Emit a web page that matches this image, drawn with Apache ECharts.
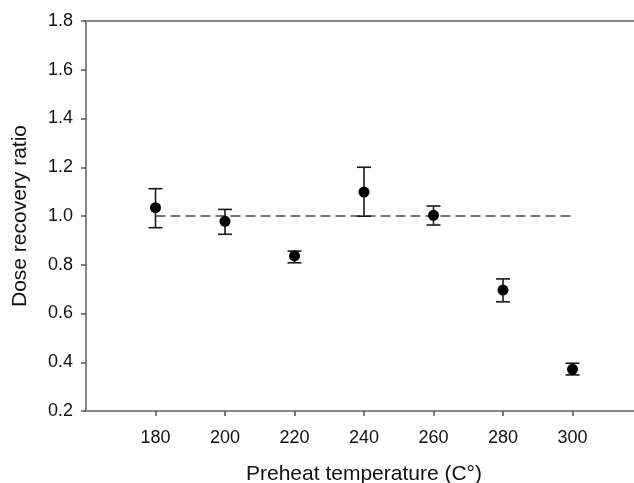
<!DOCTYPE html>
<html>
<head>
<meta charset="utf-8">
<script src="https://cdn.jsdelivr.net/npm/echarts@6/dist/echarts.min.js"></script>
<style>html,body{margin:0;padding:0;background:#fff;overflow:hidden;}#c{width:634px;height:483px;}</style>
</head>
<body>
<div id="c"></div>
<script>
const temps = [180, 200, 220, 240, 260, 280, 300];
const ratio = [1.034, 0.978, 0.836, 1.098, 1.003, 0.696, 0.371];
const errLow = [0.952, 0.925, 0.808, 0.999, 0.963, 0.648, 0.348];
const errHigh = [1.112, 1.027, 0.856, 1.200, 1.041, 0.742, 0.396];
const refLineX = [180, 300];
const refLineY = 1.0;

const chart = echarts.init(document.getElementById('c'), null, {renderer: 'canvas'});
const font = 'Liberation Sans, Arial, sans-serif';
chart.setOption({
  animation: false,
  backgroundColor: '#fff',
  grid: {left: 86, top: 21, width: 556, height: 390, outerBoundsMode: 'none', containLabel: false,
         show: true, borderColor: '#888', borderWidth: 2, backgroundColor: 'transparent'},
  xAxis: {
    type: 'value', min: 160, max: 320, interval: 20,
    name: 'Preheat temperature (C°)', nameLocation: 'middle', nameGap: 53,
    nameTextStyle: {fontFamily: font, fontSize: 21, color: '#111'},
    axisLine: {lineStyle: {color: '#888', width: 2}},
    axisTick: {inside: false, length: 5, lineStyle: {color: '#555', width: 1.5}},
    axisLabel: {showMinLabel: false, showMaxLabel: false, fontFamily: font, fontSize: 18, color: '#111', margin: 18},
    splitLine: {show: false}
  },
  yAxis: {
    type: 'value', min: 0.2, max: 1.8, interval: 0.2,
    name: 'Dose recovery ratio', nameLocation: 'middle', nameGap: 55,
    nameTextStyle: {fontFamily: font, fontSize: 21, color: '#111'},
    axisLine: {lineStyle: {color: '#888', width: 2}},
    axisTick: {inside: false, length: 5, lineStyle: {color: '#555', width: 1.5}},
    axisLabel: {fontFamily: font, fontSize: 18, color: '#111', margin: 13, formatter: v => v.toFixed(1)},
    splitLine: {show: false}
  },
  series: [
    {
      type: 'line', data: refLineX.map(x => [x, refLineY]), symbol: 'none',
      lineStyle: {color: '#777', width: 2.2, type: [10, 5]}, z: 1, silent: true
    },
    {
      type: 'custom', z: 2,
      data: temps.map((t, i) => [t, errLow[i], errHigh[i]]),
      renderItem: function (params, api) {
        const x = api.value(0);
        const lo = api.coord([x, api.value(1)]);
        const hi = api.coord([x, api.value(2)]);
        const w = 7;
        const st = {stroke: '#1a1a1a', lineWidth: 1.6};
        return {type: 'group', children: [
          {type: 'line', shape: {x1: lo[0], y1: lo[1], x2: hi[0], y2: hi[1]}, style: st},
          {type: 'line', shape: {x1: lo[0] - w, y1: lo[1], x2: lo[0] + w, y2: lo[1]}, style: st},
          {type: 'line', shape: {x1: hi[0] - w, y1: hi[1], x2: hi[0] + w, y2: hi[1]}, style: st}
        ]};
      }
    },
    {
      type: 'scatter', z: 3, symbol: 'circle', symbolSize: 11,
      itemStyle: {color: '#000', opacity: 1},
      data: temps.map((t, i) => [t, ratio[i]])
    }
  ]
});
</script>
</body>
</html>
